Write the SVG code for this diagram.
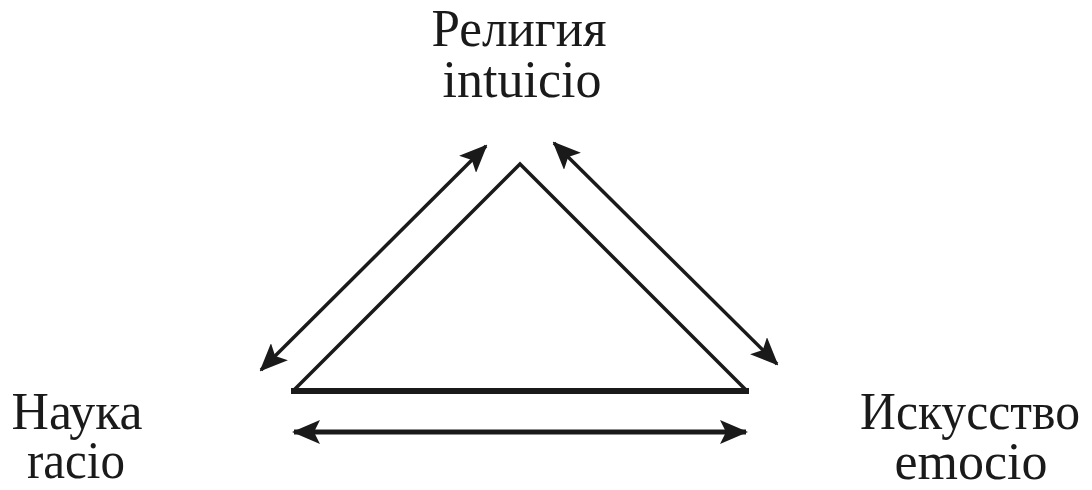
<svg xmlns="http://www.w3.org/2000/svg" width="1092" height="490" viewBox="0 0 1092 490">
<style>
text{font-family:"Liberation Serif","DejaVu Serif",serif;font-size:52px;fill:#1a1a1a;text-anchor:middle}
.side{stroke:#1a1a1a;stroke-width:3.5;fill:none;stroke-linejoin:miter}
.base{stroke:#1a1a1a;stroke-width:6;fill:none}
.arr{stroke:#1a1a1a;stroke-width:3.5;fill:none;marker-start:url(#ah);marker-end:url(#ah)}
.arr.h{stroke-width:5}
</style>
<defs>
<marker id="ah" viewBox="0 0 28 24" refX="26" refY="12" markerWidth="28" markerHeight="24" orient="auto-start-reverse" markerUnits="userSpaceOnUse">
<path d="M0,0 L28,12 L0,24 L6,12 Z" fill="#1a1a1a"/>
</marker>
</defs>
<g id="religion" font-family="Liberation Serif, serif"><text x="519" y="46" textLength="175" lengthAdjust="spacingAndGlyphs">Религия</text><text x="522" y="97" textLength="159" lengthAdjust="spacingAndGlyphs">intuicio</text></g>
<g id="science" font-family="Liberation Serif, serif"><text x="77" y="429" textLength="131" lengthAdjust="spacingAndGlyphs">Наука</text><text x="76" y="478" textLength="98" lengthAdjust="spacingAndGlyphs">racio</text></g>
<g id="art" font-family="Liberation Serif, serif"><text x="970" y="429" textLength="220" lengthAdjust="spacingAndGlyphs">Искусство</text><text x="971" y="479" textLength="153" lengthAdjust="spacingAndGlyphs">emocio</text></g>
<g id="triangle">
<path class="side" d="M293,391 L520,164 L747,391"/>
<path class="base" d="M291,391 L749,391"/>
</g>
<g id="connectors">
<line class="arr" x1="261" y1="370" x2="486" y2="146"/>
<line class="arr" x1="554" y1="143" x2="777" y2="364"/>
<line class="arr h" x1="294" y1="432" x2="746" y2="432"/>
</g>
</svg>
